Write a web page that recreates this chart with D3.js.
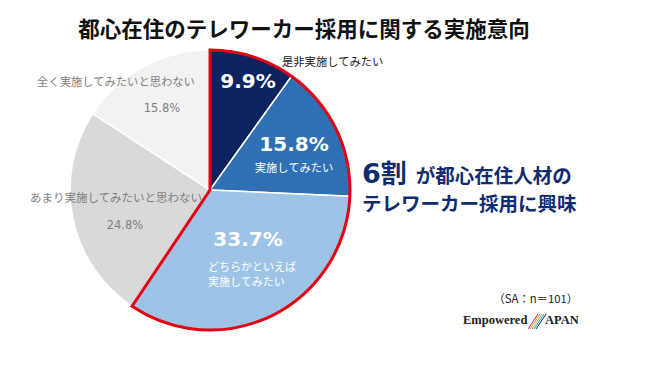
<!DOCTYPE html>
<html>
<head>
<meta charset="utf-8">
<script src="https://cdn.jsdelivr.net/npm/d3@7"></script>
<style>
  body { margin: 0; background: #fff; }
  svg { font-family: "Noto Sans CJK JP", "Noto Sans", sans-serif; }
</style>
</head>
<body>
<svg id="chart" width="650" height="376"></svg>
<script>
// answers, clockwise from 12 o'clock
const categories = ["是非実施してみたい", "実施してみたい", "どちらかといえば実施してみたい", "あまり実施してみたいと思わない", "全く実施してみたいと思わない"];
const values = [9.9, 15.8, 33.7, 24.8, 15.8];
const colors = ["#0c2360", "#2e70b3", "#9dc3e6", "#d9d9d9", "#f2f2f2"];
const interested = 3; // first three slices = interested (outlined red)

const width = 650, height = 376;
const cx = 210, cy = 190, r = 140;
const numFont = "'DejaVu Sans', Verdana, sans-serif";

const svg = d3.select("#chart");

svg.append("text")
  .attr("x", 304).attr("y", 37)
  .attr("text-anchor", "middle")
  .attr("font-size", "21.5px").attr("font-weight", "bold")
  .attr("fill", "#111")
  .text("都心在住のテレワーカー採用に関する実施意向");

const pie = d3.pie().sort(null).value(d => d);
const arcs = pie(values);
const arc = d3.arc().innerRadius(0).outerRadius(r);

const g = svg.append("g").attr("transform", `translate(${cx},${cy})`);

g.selectAll("path.slice")
  .data(arcs)
  .join("path")
  .attr("class", "slice")
  .attr("d", arc)
  .attr("fill", (d, i) => colors[i])
  .attr("stroke", "#fff")
  .attr("stroke-width", 1.5);

// red outline around the "interested" group
const total = d3.sum(values);
const endAngle = 2 * Math.PI * d3.sum(values.slice(0, interested)) / total;
g.append("path")
  .attr("d", d3.arc().innerRadius(0).outerRadius(r)({startAngle: 0, endAngle: endAngle}))
  .attr("fill", "none")
  .attr("stroke", "#e60012")
  .attr("stroke-width", 3)
  .attr("stroke-linejoin", "miter");

function label(x, y, txt, size, color, opts) {
  opts = opts || {};
  const t = svg.append("text")
    .attr("x", x).attr("y", y)
    .attr("text-anchor", opts.anchor || "middle")
    .attr("font-size", size).attr("font-weight", opts.weight || "normal")
    .attr("fill", color)
    .text(txt);
  if (opts.font) t.style("font-family", opts.font);
  return t;
}
const pct = v => v.toFixed(1) + "%";

label(248, 88, pct(values[0]), "20px", "#fff", {weight: "bold", font: numFont});
label(282, 66, categories[0], "11.3px", "#222", {anchor: "start"});

label(294, 151, pct(values[1]), "20px", "#fff", {weight: "bold", font: numFont});
label(294, 172, categories[1], "11.3px", "#fff");

label(248, 246, pct(values[2]), "20px", "#fff", {weight: "bold", font: numFont});
// two-line label for the third slice
const lab3 = svg.append("text").attr("font-size", "11px").attr("fill", "#fff");
["どちらかといえば", "実施してみたい"].forEach((s, i) => {
  lab3.append("tspan").attr("x", 208).attr("y", 271 + i * 15).text(s);
});

label(116, 86, categories[4], "11.3px", "#7f7f7f");
label(162, 112, pct(values[4]), "11.5px", "#7f7f7f", {font: numFont});
label(116, 202, categories[3], "11.5px", "#7f7f7f");
label(125, 229, pct(values[3]), "11.5px", "#7f7f7f", {font: numFont});

// callout text
const call = svg.append("text").attr("x", 362).attr("y", 183).attr("fill", "#102c70").attr("font-weight", "bold");
call.append("tspan").attr("font-size", "27px").style("font-family", numFont).text("6");
call.append("tspan").attr("font-size", "26px").text("割");
call.append("tspan").attr("font-size", "19.5px").attr("dx", 9).text("が都心在住人材の");
svg.append("text").attr("x", 362).attr("y", 211)
  .attr("fill", "#102c70").attr("font-weight", "bold").attr("font-size", "19.5px")
  .text("テレワーカー採用に興味");

svg.append("text").attr("x", 578).attr("y", 303)
  .attr("text-anchor", "end").attr("font-size", "11.3px").attr("fill", "#222")
  .text("（SA：n＝101）");

// logo
svg.append("text").attr("x", 463).attr("y", 324)
  .style("font-family", "'Liberation Serif', serif").attr("font-weight", "bold")
  .attr("font-size", "12.5px").attr("fill", "#222").text("Empowered");
const stripes = ["#e4007f", "#f39800", "#8fc31f", "#00a0e9", "#1d2088"];
stripes.forEach((c, i) => {
  svg.append("line")
    .attr("x1", 528 + i * 2).attr("y1", 329)
    .attr("x2", 538 + i * 2).attr("y2", 314)
    .attr("stroke", c).attr("stroke-width", 1);
});
svg.append("text").attr("x", 545).attr("y", 324)
  .style("font-family", "'Liberation Serif', serif").attr("font-weight", "bold")
  .attr("font-size", "12.5px").attr("fill", "#222").text("APAN");
</script>
</body>
</html>
